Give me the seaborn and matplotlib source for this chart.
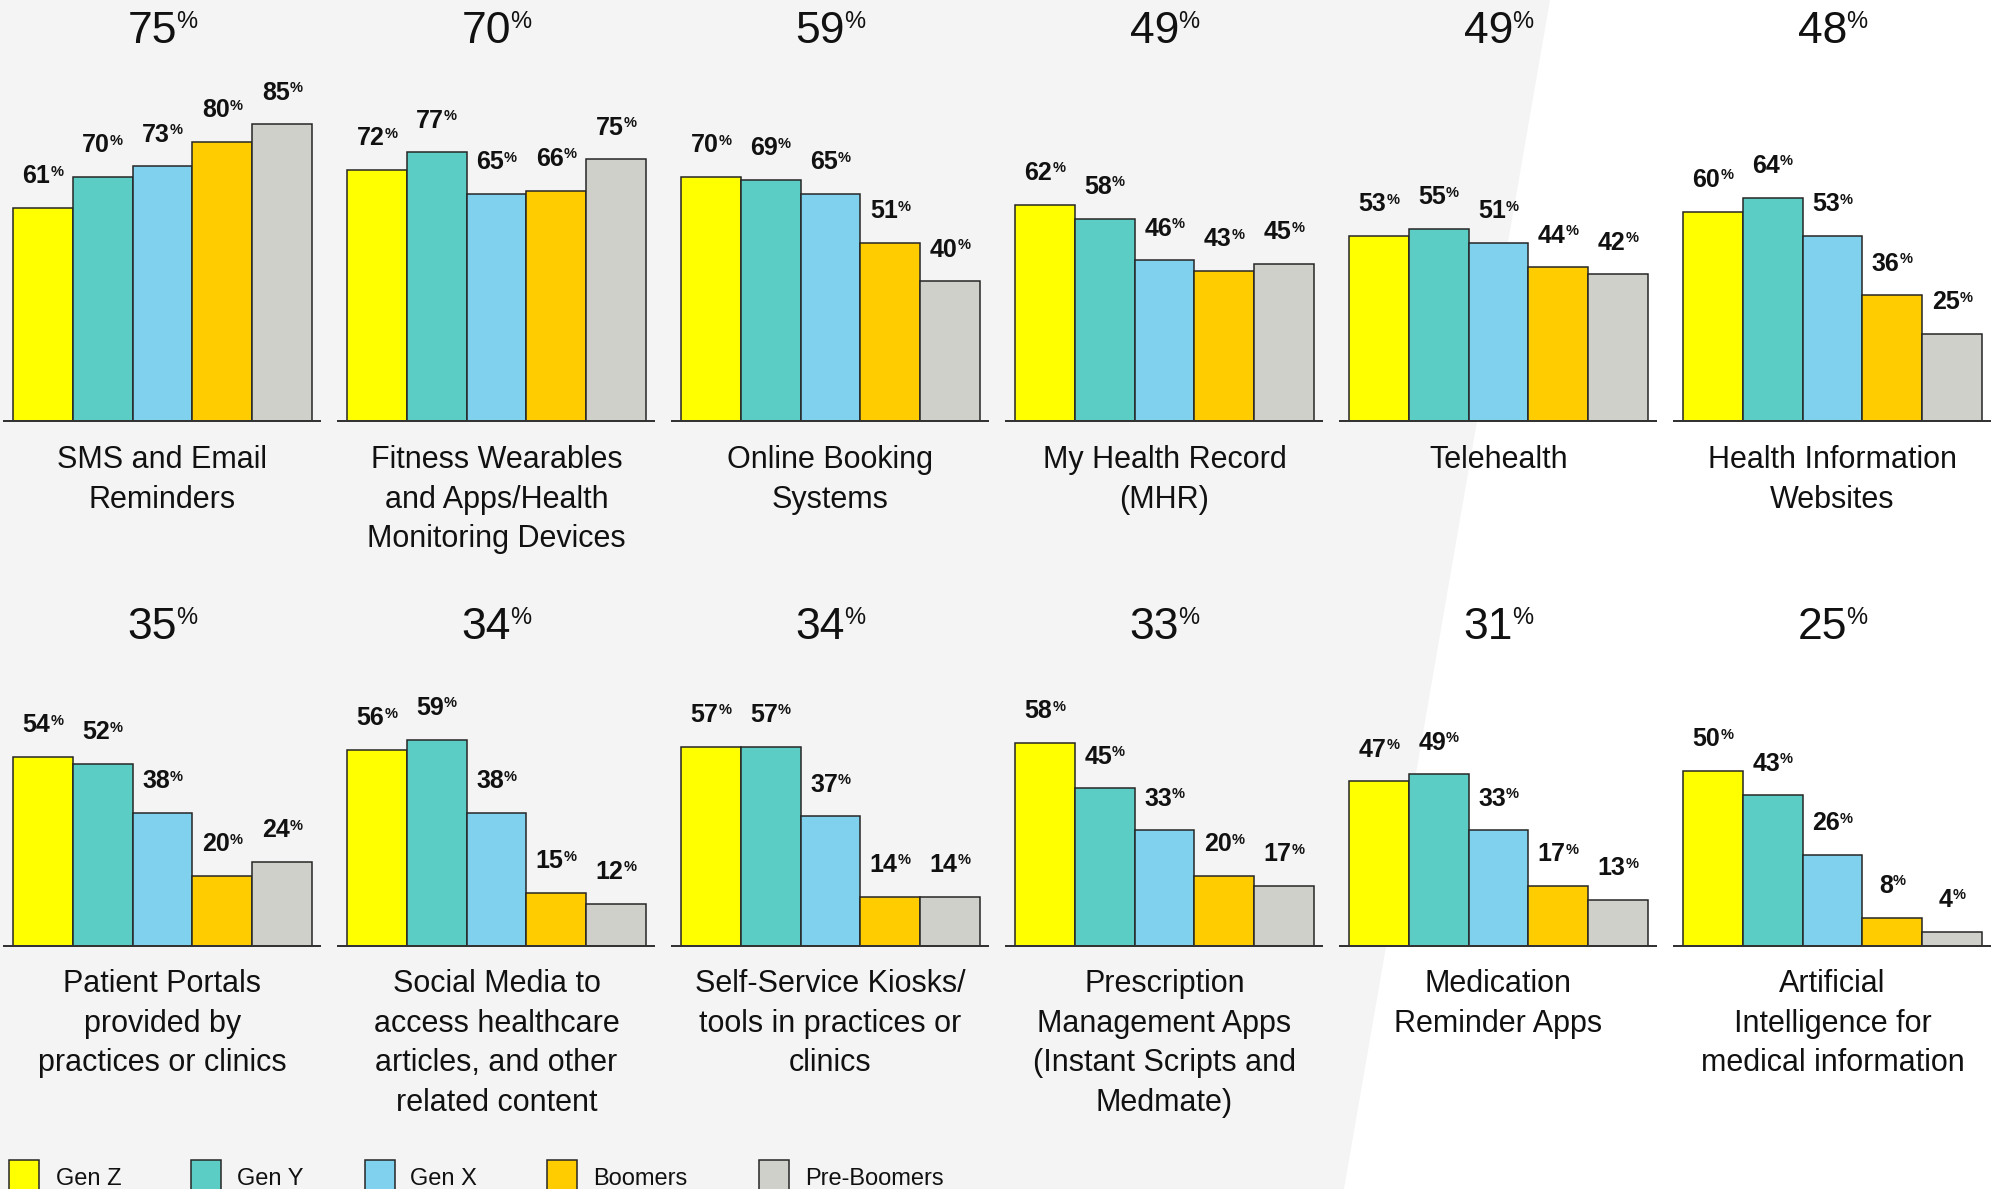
import matplotlib
matplotlib.use("Agg")
import matplotlib.pyplot as plt
from matplotlib.patches import Polygon, Rectangle
import pandas as pd
import seaborn as sns

# ---- data -------------------------------------------------------------
services = [
    "SMS and Email\nReminders",
    "Fitness Wearables\nand Apps/Health\nMonitoring Devices",
    "Online Booking\nSystems",
    "My Health Record\n(MHR)",
    "Telehealth",
    "Health Information\nWebsites",
    "Patient Portals\nprovided by\npractices or clinics",
    "Social Media to\naccess healthcare\narticles, and other\nrelated content",
    "Self-Service Kiosks/\ntools in practices or\nclinics",
    "Prescription\nManagement Apps\n(Instant Scripts and\nMedmate)",
    "Medication\nReminder Apps",
    "Artificial\nIntelligence for\nmedical information",
]
overall = [75, 70, 59, 49, 49, 48, 35, 34, 34, 33, 31, 25]

generations = ["Gen Z", "Gen Y", "Gen X", "Boomers", "Pre-Boomers"]
gen_z = [61, 72, 70, 62, 53, 60, 54, 56, 57, 58, 47, 50]
gen_y = [70, 77, 69, 58, 55, 64, 52, 59, 57, 45, 49, 43]
gen_x = [73, 65, 65, 46, 51, 53, 38, 38, 37, 33, 33, 26]
boomers = [80, 66, 51, 43, 44, 36, 20, 15, 14, 20, 17, 8]
pre_boomers = [85, 75, 40, 45, 42, 25, 24, 12, 14, 17, 13, 4]

colors = ["#FFFF00", "#5BCDC4", "#80D1EE", "#FFCC00", "#D0D0CB"]

# ---- style ------------------------------------------------------------
sns.set_theme(style="white")
plt.rcParams["font.family"] = ["Liberation Sans", "DejaVu Sans"]

W, H = 1995, 1189
fig = plt.figure(figsize=(W / 100, H / 100), dpi=100)
fig.patch.set_facecolor("white")


def fx(px):
    return px / W


def fy(py):
    return 1 - py / H


# light grey backdrop with a slanted right edge
fig.patches.append(Polygon(
    [(0, 1), (fx(1550), 1), (fx(1344), 0), (0, 0)],
    closed=True, transform=fig.transFigure, facecolor="#F4F4F4",
    edgecolor="none", zorder=-10))

df = pd.DataFrame({
    "service": services,
    "overall": overall,
    "Gen Z": gen_z,
    "Gen Y": gen_y,
    "Gen X": gen_x,
    "Boomers": boomers,
    "Pre-Boomers": pre_boomers,
})
long = df.melt(id_vars=["service", "overall"], value_vars=generations,
               var_name="generation", value_name="share")

PT = 72 / 100  # points per pixel
VAL_FS, PCT_FS = 18, 10.5
BIG_FS, BIG_PCT_FS = 32, 17
LABEL_FS = 22
DIGIT_EM, PCT_EM = 0.556, 0.889
CAP = 0.716

for k, service in enumerate(services):
    row, col = divmod(k, 6)
    base_px = 421 if row == 0 else 945.5
    ax = fig.add_axes([fx(4 + 334 * col), fy(base_px), fx(316), 349 / H])
    ax.set_facecolor("none")
    sub = long[long["service"] == service]
    sns.barplot(data=sub, x="generation", y="share", hue="generation",
                order=generations, hue_order=generations, palette=colors,
                saturation=1, width=1.0, edgecolor="#262626", linewidth=1.1,
                legend=False, ax=ax)
    ax.set_xlim(-0.65, 4.634)
    ax.set_ylim(0, 100)
    ax.set(xticks=[], yticks=[], xlabel="", ylabel="")
    for side in ("left", "right", "top"):
        ax.spines[side].set_visible(False)
    ax.spines["bottom"].set_color("#333333")
    ax.spines["bottom"].set_linewidth(2 * PT)

    # value labels: bold number with a small raised percent sign
    for i, g in enumerate(generations):
        v = int(sub.loc[sub["generation"] == g, "share"].iloc[0])
        num_w = len(str(v)) * DIGIT_EM * VAL_FS
        pct_w = PCT_EM * PCT_FS
        gap = 0.0
        right = (num_w + gap + pct_w) / 2 - pct_w - gap
        ax.annotate(str(v), xy=(i, v), xytext=(right, 17.8),
                    textcoords="offset points", ha="right", va="baseline",
                    fontsize=VAL_FS, fontweight="bold", color="#111111",
                    annotation_clip=False)
        ax.annotate("%", xy=(i, v),
                    xytext=(right + gap, 17.8 + CAP * (VAL_FS - PCT_FS)),
                    textcoords="offset points", ha="left", va="baseline",
                    fontsize=PCT_FS, fontweight="bold", color="#111111",
                    annotation_clip=False)

    # overall share above each panel
    big_base = 43.3 if row == 0 else 639
    num_w = len(str(overall[k])) * DIGIT_EM * BIG_FS
    pct_w = PCT_EM * BIG_PCT_FS
    gap = -0.5
    right = (num_w + gap + pct_w) / 2 - pct_w - gap
    ax.annotate(str(overall[k]), xy=(2, fy(big_base)),
                xycoords=("data", "figure fraction"),
                xytext=(right, 0), textcoords="offset points",
                ha="right", va="baseline", fontsize=BIG_FS, color="#111111")
    ax.annotate("%", xy=(2, fy(big_base)),
                xycoords=("data", "figure fraction"),
                xytext=(right + gap, CAP * (BIG_FS - BIG_PCT_FS)),
                textcoords="offset points",
                ha="left", va="baseline", fontsize=BIG_PCT_FS, color="#111111")

    # service name under the panel
    first = 468 if row == 0 else 992
    for j, line in enumerate(service.split("\n")):
        ax.annotate(line, xy=(2, fy(first + 39.6 * j)),
                    xycoords=("data", "figure fraction"),
                    ha="center", va="baseline", fontsize=LABEL_FS,
                    color="#111111")

# legend along the bottom edge
sq_x = [9, 191, 365, 547, 759]
txt_x = [56, 237, 410, 593, 805]
for g, c, sx, tx in zip(generations, colors, sq_x, txt_x):
    fig.patches.append(Rectangle(
        (fx(sx), fy(1193)), fx(30), 33 / H, transform=fig.transFigure,
        facecolor=c, edgecolor="#262626", linewidth=1.1, zorder=3))
    fig.text(fx(tx), fy(1185), g, ha="left", va="baseline",
             fontsize=17, color="#111111")

fig.savefig("out.png", dpi=100)
